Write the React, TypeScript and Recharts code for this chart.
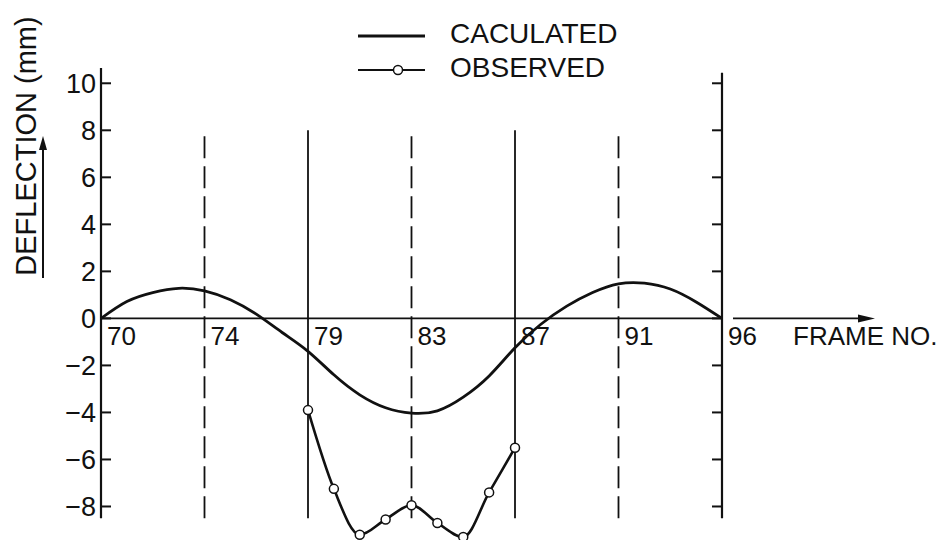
import { Legend, Line, LineChart, ReferenceDot, ReferenceLine, XAxis, YAxis } from "recharts";

const INK = "#111";
const FONT = "'Liberation Sans', Arial, sans-serif";

// frame numbers at the vertical lines (x is the line index 0..6)
const FRAMES = [70, 74, 79, 83, 87, 91, 96];
const FRAME_POS = [0, 1, 2, 3, 4, 5, 6];
const Y_TICKS = [10, 8, 6, 4, 2, 0, -2, -4, -6, -8];

// calculated deflection (mm), read every quarter interval
const CALC_X = [0, 0.25, 0.5, 0.75, 1, 1.25, 1.5, 1.75, 2, 2.25, 2.5, 2.75, 3, 3.25, 3.5, 3.75, 4, 4.25, 4.5, 4.75, 5, 5.25, 5.5, 5.75, 6];
const CALC_Y = [0, 0.72, 1.1, 1.28, 1.17, 0.79, 0.18, -0.6, -1.4, -2.4, -3.25, -3.8, -4.03, -3.93, -3.35, -2.45, -1.25, -0.25, 0.52, 1.1, 1.47, 1.5, 1.25, 0.7, 0];

// observed deflection (mm), between frame 79 and 87
const OBS_X = [2, 2.25, 2.5, 2.75, 3, 3.25, 3.5, 3.75, 4];
const OBS_Y = [-3.9, -7.25, -9.2, -8.55, -7.95, -8.7, -9.3, -7.4, -5.5];

const Y_DOMAIN: [number, number] = [-9.5, 10.65];

const calc = CALC_X.map((x, i) => ({ x, y: CALC_Y[i] }));
const obs = OBS_X.map((x, i) => ({ x, y: OBS_Y[i] }));

const fmt = (v: number) => (v < 0 ? `\u2212${Math.abs(v)}` : `${v}`);

function AxisTitle() {
  return (
    <g>
      <text
        x={36}
        y={146}
        transform="rotate(-90 36 146)"
        textAnchor="middle"
        fontSize={29}
        fontFamily={FONT}
        fill={INK}
      >
        DEFLECTION (mm)
      </text>
      <line x1={43} y1={278} x2={43} y2={148} stroke={INK} strokeWidth={2} />
      <polygon points="43,136 39,150 47,150" fill={INK} />
    </g>
  );
}

function FrameLabel({ viewBox, text }: any) {
  return (
    <text x={viewBox.x + 6} y={viewBox.y + 27} fontSize={26} fontFamily={FONT} fill={INK}>
      {text}
    </text>
  );
}

function AxisArrow({ viewBox }: any) {
  const end = viewBox.x + viewBox.width;
  const y = viewBox.y;
  return (
    <g>
      <line x1={end + 11} y1={y} x2={end + 140} y2={y} stroke={INK} strokeWidth={1.8} />
      <polygon points={`${end + 153},${y} ${end + 136},${y - 4} ${end + 136},${y + 4}`} fill={INK} />
      <text x={end + 71} y={y + 27} fontSize={26} fontFamily={FONT} fill={INK}>
        FRAME NO.
      </text>
    </g>
  );
}

function LegendBox({ payload }: any) {
  return (
    <svg width={938} height={90}>
      {(payload || []).map((p: any, i: number) => {
        const y = 36 + i * 34;
        return (
          <g key={p.value}>
            <line x1={358} y1={y} x2={425} y2={y} stroke={INK} strokeWidth={p.type === "circle" ? 2 : 2.8} />
            {p.type === "circle" && <circle cx={398} cy={y} r={4.5} fill="#fff" stroke={INK} strokeWidth={1.5} />}
            <text x={450} y={y + 7} fontSize={28} fontFamily={FONT} fill={INK}>
              {p.value}
            </text>
          </g>
        );
      })}
    </svg>
  );
}

export default function App() {
  return (
    <div style={{ position: "absolute", left: 0, top: 0, background: "#fff" }}>
      <LineChart width={938} height={545} margin={{ top: 68, right: 215, bottom: 3.25, left: 41 }}>
        <XAxis dataKey="x" type="number" domain={[0, 6]} allowDataOverflow hide />
        <YAxis
          type="number"
          domain={Y_DOMAIN}
          allowDataOverflow
          ticks={Y_TICKS}
          interval={0}
          width={60}
          axisLine={false}
          tickSize={-10}
          tickMargin={15}
          tickLine={{ stroke: INK, strokeWidth: 2 }}
          tick={{ fill: INK, fontSize: 27, fontFamily: FONT }}
          tickFormatter={fmt}
          label={<AxisTitle />}
        />
        <YAxis
          yAxisId="r"
          orientation="right"
          type="number"
          domain={Y_DOMAIN}
          allowDataOverflow
          ticks={Y_TICKS}
          interval={0}
          width={1}
          axisLine={false}
          tickSize={-10}
          tickLine={{ stroke: INK, strokeWidth: 2 }}
          tickFormatter={() => ""}
        />
        <Legend
          layout="vertical"
          align="center"
          verticalAlign="middle"
          wrapperStyle={{ top: 0, left: 0, width: 938, height: 90 }}
          content={<LegendBox />}
        />

        {/* horizontal zero axis with arrow */}
        <ReferenceLine y={0} stroke={INK} strokeWidth={1.8} label={<AxisArrow />} />

        {/* frame lines: ends solid, odd ones dashed */}
        {FRAME_POS.map((x, i) => {
          const top = i === 0 ? 10.65 : i === FRAME_POS.length - 1 ? 10.45 : 8;
          return (
            <ReferenceLine
              key={FRAMES[i]}
              segment={[
                { x, y: -8.5 },
                { x, y: top },
              ]}
              stroke={INK}
              strokeWidth={i === 0 || i === FRAME_POS.length - 1 ? 2.2 : 1.8}
              strokeDasharray={i % 2 === 1 ? "22 8" : undefined}
            />
          );
        })}
        {FRAME_POS.map((x, i) => (
          <ReferenceDot
            key={`l${FRAMES[i]}`}
            x={x}
            y={0}
            r={0}
            fill="none"
            stroke="none"
            label={<FrameLabel text={String(FRAMES[i])} />}
          />
        ))}

        <Line
          data={calc}
          dataKey="y"
          name="CACULATED"
          type="natural"
          stroke={INK}
          strokeWidth={2.8}
          dot={false}
          legendType="line"
          isAnimationActive={false}
        />
        <Line
          data={obs}
          dataKey="y"
          name="OBSERVED"
          type="monotone"
          stroke={INK}
          strokeWidth={2.6}
          dot={{ r: 4.5, fill: "#fff", stroke: INK, strokeWidth: 1.5 }}
          legendType="circle"
          isAnimationActive={false}
        />
      </LineChart>
    </div>
  );
}
